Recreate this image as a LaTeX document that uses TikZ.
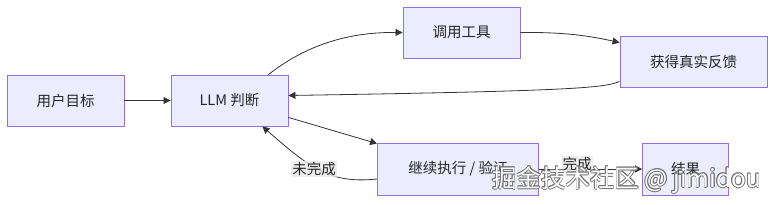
\documentclass[tikz,border=0pt]{standalone}
\usepackage{fontspec}
\setmainfont{Noto Sans CJK SC}
\usetikzlibrary{calc,arrows.meta}
\definecolor{nodefill}{HTML}{ECECFF}
\definecolor{nodeline}{HTML}{9370DB}
\definecolor{edgecol}{HTML}{333333}
\definecolor{lblbg}{HTML}{E8E8E8}
\tikzset{
  box/.style={draw=nodeline, fill=nodefill, line width=0.9pt, inner sep=0pt, font=\fontsize{14.5}{16}\selectfont, text=black!85},
  edge/.style={draw=edgecol, line width=0.8pt, -{Triangle[length=7pt,width=7pt]}},
  lbl/.style={fill=lblbg, fill opacity=0.8, text opacity=1, inner sep=1pt, font=\fontsize{14.5}{16}\selectfont, text=black!85},
  wm/.style={font=\fontsize{24.5}{27}\selectfont, anchor=west, inner sep=0pt}
}
\begin{document}
\begin{tikzpicture}[x=1pt,y=-1pt]
\useasboundingbox (0,0) rectangle (784,205);
\node[box, minimum width=117pt, minimum height=51pt] (goal) at (65.5,100.5) {用户目标};
\node[box, minimum width=117pt, minimum height=51pt] (llm) at (229.5,100.5) {LLM 判断};
\node[box, minimum width=117pt, minimum height=51pt] (tool) at (461.5,32.5) {调用工具};
\node[box, minimum width=147pt, minimum height=51pt] (fb) at (693.5,61.5) {获得真实反馈};
\node[box, minimum width=161pt, minimum height=52pt] (cont) at (458,169) {继续执行 / 验证};
\node[box, minimum width=86pt, minimum height=52pt] (res) at (685.5,169) {结果};

\draw[edge] (goal.east) -- (llm.west);
\draw[edge] ($(llm.north east)+(-20,0)$) .. controls (300,50) and (340,32) .. (tool.west);
\draw[edge] (tool.east) .. controls (565,32) and (590,36) .. ($(fb.north west)+(0,7)$);
\draw[edge] ($(fb.south west)+(0,-6)$) .. controls (605,88) and (570,91) .. ($(llm.east)+(0,-5)$);
\draw[edge] ($(llm.south east)+(0,-9)$) -- ($(cont.north west)+(0,1)$);
\draw[edge] ($(cont.west)+(0,10)$) .. controls (330,184) and (310,168) .. ($(llm.south east)+(-26,0)$);
\draw[edge] (cont.east) -- (res.west);
\node[lbl] (l1) at (314,169) {未完成};
\node[lbl] (l2) at (577,164) {完成};

% watermark
\foreach \dx/\dy in {-0.7/0,0.7/0,0/-0.7,0/0.7,-0.5/-0.5,0.5/0.5,-0.5/0.5,0.5/-0.5}{
  \node[wm, text=black!55] at (492+\dx,180+\dy) {掘金技术社区 @ jimidou};
}
\node[wm, text=white] (wmark) at (492,180) {掘金技术社区 @ jimidou};
\end{tikzpicture}
\end{document}
